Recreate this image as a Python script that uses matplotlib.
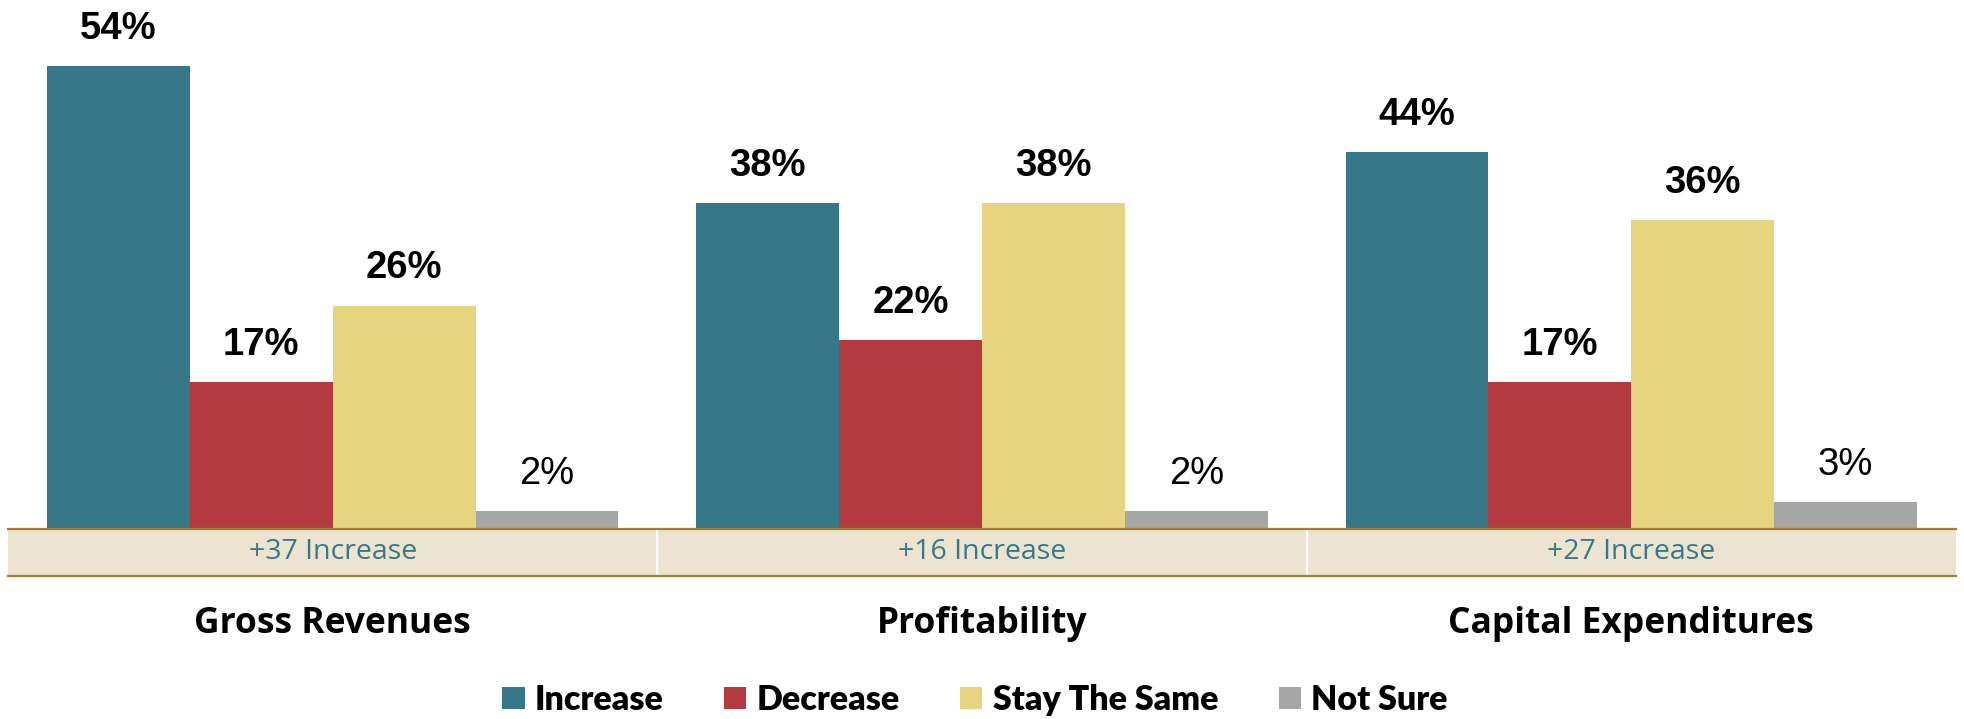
import matplotlib
matplotlib.use("Agg")
import matplotlib.pyplot as plt
from matplotlib.patches import Patch
import numpy as np

# ---- data ----
categories = ["Gross Revenues", "Profitability", "Capital Expenditures"]
series = ["Increase", "Decrease", "Stay The Same", "Not Sure"]
increase = [54, 38, 44]
decrease = [17, 22, 17]
stay_same = [26, 38, 36]
not_sure = [2, 2, 3]
net_labels = ["+37 Increase", "+16 Increase", "+27 Increase"]

colors = ["#377888", "#B43A42", "#E6D480", "#A6A6A6"]
band_fill = "#ECE3D0"
band_line = "#A67C2E"
net_color = "#377888"

W, H, DPI = 1965, 719, 100
fig = plt.figure(figsize=(W / DPI, H / DPI), dpi=DPI)

# main axes: x from px 8 to 1956, baseline at px 527.7
base_px = 527.7
px_per_pct = 8.544
ax = fig.add_axes([8 / W, 1 - base_px / H, 1948 / W, base_px / H])
ax.set_xlim(-0.5, 2.5)
ax.set_ylim(0, base_px / px_per_pct)
ax.axis("off")

x = np.arange(len(categories))
bw = 0.22
vals = [increase, decrease, stay_same, not_sure]
for i, (name, v, c) in enumerate(zip(series, vals, colors)):
    pos = x + (i - 1.5) * bw
    ax.bar(pos, v, width=bw, color=c, edgecolor="none", label=name)
    for xp, val in zip(pos, v):
        bold = val >= 10
        ax.annotate(f"{val}%", (xp, val), xytext=(0, 19.5), textcoords="offset points",
                    ha="center", va="baseline", fontsize=27.5,
                    fontweight="bold" if bold else "normal",
                    family="Liberation Sans", color="black")

# band axes
band_top, band_bot = 529.0, 575.7
bax = fig.add_axes([8 / W, 1 - band_bot / H, 1948 / W, (band_bot - band_top) / H])
bax.set_xlim(-0.5, 2.5)
bax.set_ylim(0, 1)
bax.axis("off")
bax.axhspan(0, 1, color=band_fill, zorder=0)
bax.axhline(1, color=band_line, lw=1.6, zorder=2, clip_on=False)
bax.axhline(0, color=band_line, lw=1.6, zorder=2, clip_on=False)
for d in [0.5, 1.5]:
    bax.axvline(d, color="white", lw=1.6, zorder=1)
base_band = (band_bot - 559.0) / (band_bot - band_top)
for xi, lab in zip(x, net_labels):
    bax.text(xi, base_band, lab, ha="center", va="baseline", fontsize=20.5,
             family="Open Sans", color=net_color)

# category labels under the band (baseline at px 633.3)
for xi, cat in zip(x, categories):
    ax.text(xi, (base_px - 633.3) / px_per_pct, cat, ha="center", va="baseline",
            fontsize=25.5, fontweight="bold", family="Open Sans", color="black",
            clip_on=False)

handles = [Patch(facecolor=c, edgecolor="none") for c in colors]
fig.legend(handles, series, loc="center", bbox_to_anchor=(975 / W, 1 - 700 / H),
           ncol=4, frameon=False, prop={"family": "Lato", "weight": "heavy", "size": 24.5},
           handlelength=0.65, handleheight=0.65, handletextpad=0.3,
           columnspacing=1.78, borderpad=0, borderaxespad=0)

fig.savefig("out.png", dpi=DPI)
